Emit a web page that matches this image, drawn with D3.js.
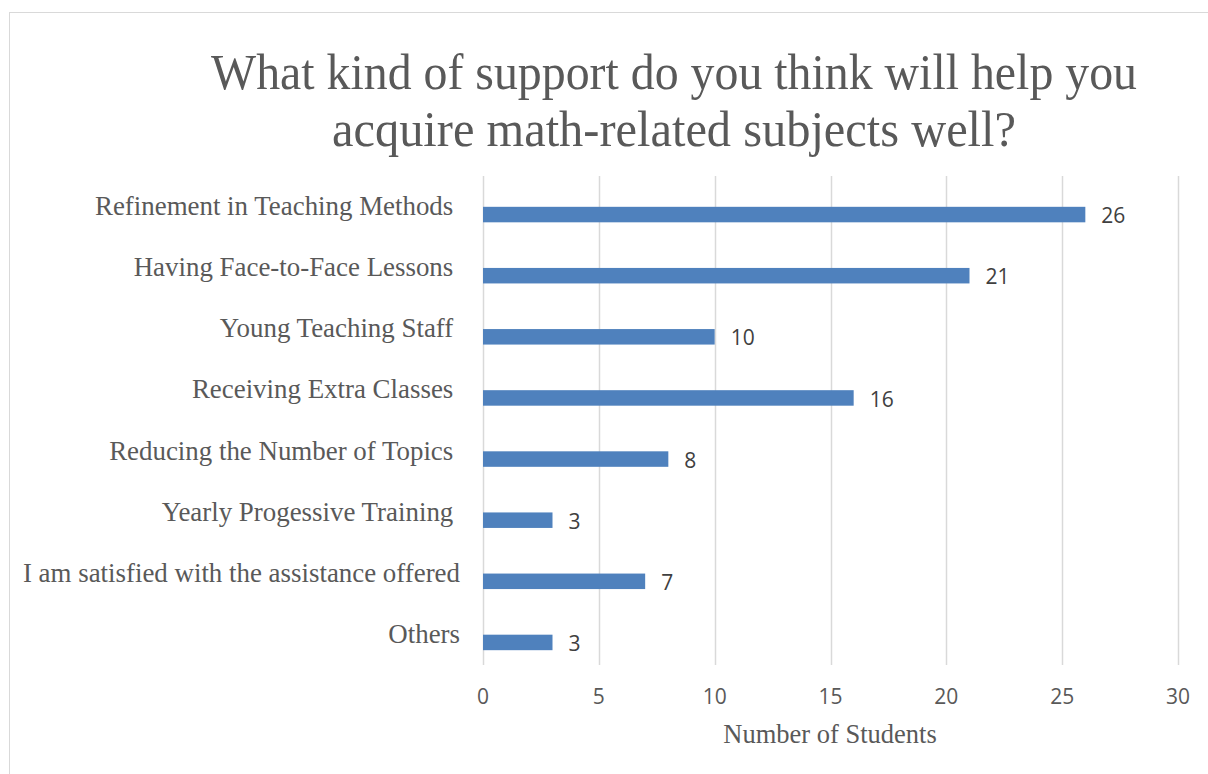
<!DOCTYPE html>
<html>
<head>
<meta charset="utf-8">
<script src="https://cdn.jsdelivr.net/npm/d3@7"></script>
<style>
  html, body { margin: 0; padding: 0; background: #fff; }
  svg { display: block; }
  text { white-space: pre; }
</style>
</head>
<body>
<svg id="chart" width="1208" height="774"></svg>
<script>
// Survey responses: number of students choosing each kind of support
const categories = [
  "Refinement in Teaching Methods ",
  "Having Face-to-Face Lessons ",
  "Young Teaching Staff ",
  "Receiving Extra Classes ",
  "Reducing the Number of Topics ",
  "Yearly Progessive Training ",
  "I am satisfied with the assistance offered",
  "Others"
];
const students = [26, 21, 10, 16, 8, 3, 7, 3];
const xTicks = [0, 5, 10, 15, 20, 25, 30];
const titleLines = [
  "What kind of support do you think will help you",
  "acquire math-related subjects well?"
];
const axisTitle = "Number of Students";

const svg = d3.select("#chart");
const W = 1208, H = 774;
const serif = "'Liberation Serif', 'Times New Roman', serif";
const sans = "'Open Sans', 'Liberation Sans', sans-serif";

// outer chart frame
svg.append("rect")
  .attr("x", 9.5).attr("y", 12.5)
  .attr("width", W + 20).attr("height", H + 20)
  .attr("fill", "#fff").attr("stroke", "#d9d9d9").attr("stroke-width", 1);

const plot = { left: 483, right: 1178, top: 176, bottom: 665 };

const x = d3.scaleLinear().domain([0, 30]).range([plot.left, plot.right]);
const y = d3.scaleBand().domain(categories).range([plot.top, plot.bottom]);

// vertical gridlines
svg.append("g")
  .selectAll("line")
  .data(xTicks)
  .join("line")
  .attr("x1", d => Math.round(x(d)) + 0.5)
  .attr("x2", d => Math.round(x(d)) + 0.5)
  .attr("y1", plot.top)
  .attr("y2", plot.bottom)
  .attr("stroke", "#d9d9d9")
  .attr("stroke-width", 1.5);

// x tick labels
svg.append("g")
  .selectAll("text")
  .data(xTicks)
  .join("text")
  .attr("x", d => x(d))
  .attr("y", 704)
  .attr("text-anchor", "middle")
  .attr("font-family", sans)
  .attr("font-size", 21)
  .attr("fill", "#595959")
  .text(d => d);

// bars sit slightly below the category centre
const barH = 15.5;
const barOffset = 8;
const barCenter = d => y(d) + y.bandwidth() / 2 + barOffset;

svg.append("g")
  .selectAll("rect")
  .data(categories)
  .join("rect")
  .attr("x", x(0))
  .attr("y", d => barCenter(d) - barH / 2)
  .attr("width", (d, i) => x(students[i]) - x(0))
  .attr("height", barH)
  .attr("fill", "#4f81bd");

// value labels
svg.append("g")
  .selectAll("text")
  .data(categories)
  .join("text")
  .attr("x", (d, i) => x(students[i]) + 16)
  .attr("y", d => barCenter(d) + 8.6)
  .attr("font-family", sans)
  .attr("font-size", 21)
  .attr("fill", "#404040")
  .text((d, i) => students[i]);

// category labels
svg.append("g")
  .selectAll("text")
  .data(categories)
  .join("text")
  .attr("x", 460)
  .attr("y", d => y(d) + y.bandwidth() / 2 + 8.5)
  .attr("text-anchor", "end")
  .attr("font-family", serif)
  .attr("font-size", 26.9)
  .attr("fill", "#595959")
  .text(d => d);

// title
const titleWidths = [926, 684];
svg.append("g")
  .selectAll("text")
  .data(titleLines)
  .join("text")
  .attr("x", (d, i) => 674 - titleWidths[i] / 2)
  .attr("y", (d, i) => 89 + i * 56.5)
  .attr("font-family", serif)
  .attr("font-size", 51)
  .attr("textLength", (d, i) => titleWidths[i])
  .attr("lengthAdjust", "spacingAndGlyphs")
  .attr("fill", "#595959")
  .text(d => d);

// axis title
svg.append("text")
  .attr("x", 830)
  .attr("y", 742.5)
  .attr("text-anchor", "middle")
  .attr("font-family", serif)
  .attr("font-size", 26.5)
  .attr("fill", "#595959")
  .text(axisTitle);
</script>
</body>
</html>
